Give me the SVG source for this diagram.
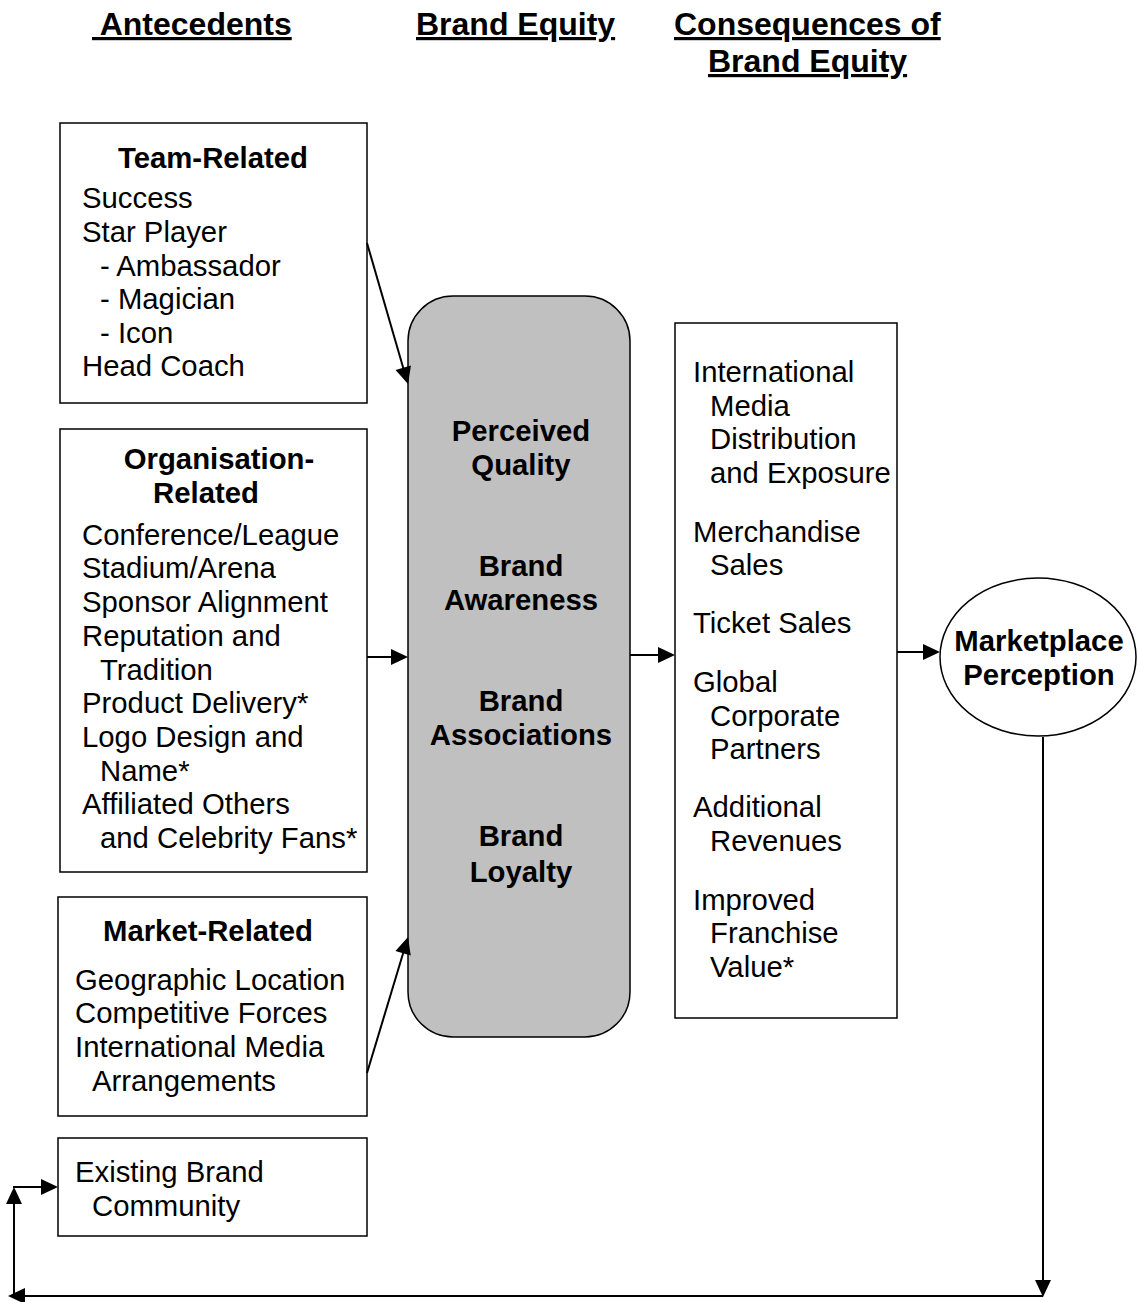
<svg xmlns="http://www.w3.org/2000/svg" xmlns:xlink="http://www.w3.org/1999/xlink" width="1138" height="1302" viewBox="0 0 1138 1302">
  <style>
    text { font-family: "Liberation Sans", Arial, sans-serif; font-size: 29.3px; fill: #000; }
    .b { font-weight: bold; }
    .h { font-weight: bold; font-size: 32px; text-decoration: underline; }
    .mid { text-anchor: middle; }
    .box { fill: #fff; stroke: #000; stroke-width: 1.5; }
    .core { fill: #c0c0c0; stroke: #000; stroke-width: 1.5; }
    .conn line { stroke: #000; stroke-width: 2; fill: none; }
    .head { fill: #000; }
  </style>
  <defs>
    <!-- arrowhead pointing along +x, tip at the origin -->
    <path id="head" class="head" d="M0,0 L-17,-8 L-17,8 Z"/>
  </defs>
  <rect width="1138" height="1302" fill="#fff"/>

  <!-- column headings -->
  <g id="headings">
    <text class="h" x="92" y="35" xml:space="preserve"> Antecedents</text>
    <text class="h" x="416" y="35">Brand Equity</text>
    <text class="h" x="674" y="35">Consequences of</text>
    <text class="h" x="708" y="72">Brand Equity</text>
  </g>

  <g id="team-related">
    <rect class="box" x="60" y="123" width="307" height="280"/>
    <text class="b mid" x="213" y="168">Team-Related</text>
    <text x="82" y="208">Success</text>
    <text x="82" y="242">Star Player</text>
    <text x="100" y="276">- Ambassador</text>
    <text x="100" y="309">- Magician</text>
    <text x="100" y="343">- Icon</text>
    <text x="82" y="376">Head Coach</text>
  </g>

  <g id="organisation-related">
    <rect class="box" x="60" y="429" width="307" height="443"/>
    <text class="b mid" x="219" y="469">Organisation-</text>
    <text class="b mid" x="206" y="503">Related</text>
    <text x="82" y="545">Conference/League</text>
    <text x="82" y="578">Stadium/Arena</text>
    <text x="82" y="612">Sponsor Alignment</text>
    <text x="82" y="646">Reputation and</text>
    <text x="100" y="680">Tradition</text>
    <text x="82" y="713">Product Delivery*</text>
    <text x="82" y="747">Logo Design and</text>
    <text x="100" y="781">Name*</text>
    <text x="82" y="814">Affiliated Others</text>
    <text x="100" y="848">and Celebrity Fans*</text>
  </g>

  <g id="market-related">
    <rect class="box" x="58" y="897" width="309" height="219"/>
    <text class="b mid" x="208" y="941">Market-Related</text>
    <text x="75" y="990">Geographic Location</text>
    <text x="75" y="1023">Competitive Forces</text>
    <text x="75" y="1057">International Media</text>
    <text x="92" y="1091">Arrangements</text>
  </g>

  <g id="existing-community">
    <rect class="box" x="58" y="1138" width="309" height="98"/>
    <text x="75" y="1182">Existing Brand</text>
    <text x="92" y="1216">Community</text>
  </g>

  <g id="brand-equity">
    <rect class="core" x="408" y="296" width="222" height="741" rx="45" ry="45"/>
    <text class="b mid" x="521" y="441">Perceived</text>
    <text class="b mid" x="521" y="475">Quality</text>
    <text class="b mid" x="521" y="576">Brand</text>
    <text class="b mid" x="521" y="610">Awareness</text>
    <text class="b mid" x="521" y="711">Brand</text>
    <text class="b mid" x="521" y="745">Associations</text>
    <text class="b mid" x="521" y="846">Brand</text>
    <text class="b mid" x="521" y="882">Loyalty</text>
  </g>

  <g id="marketplace-perception">
    <ellipse class="box" cx="1038" cy="657" rx="98" ry="79"/>
    <text class="b mid" x="1039" y="651">Marketplace</text>
    <text class="b mid" x="1039" y="685">Perception</text>
  </g>

  <g id="consequences">
    <rect class="box" x="675" y="323" width="222" height="695"/>
    <text x="693" y="382">International</text>
    <text x="710" y="416">Media</text>
    <text x="710" y="449">Distribution</text>
    <text x="710" y="483">and Exposure</text>
    <text x="693" y="542">Merchandise</text>
    <text x="710" y="575">Sales</text>
    <text x="693" y="633">Ticket Sales</text>
    <text x="693" y="692">Global</text>
    <text x="710" y="726">Corporate</text>
    <text x="710" y="759">Partners</text>
    <text x="693" y="817">Additional</text>
    <text x="710" y="851">Revenues</text>
    <text x="693" y="910">Improved</text>
    <text x="710" y="943">Franchise</text>
    <text x="710" y="977">Value*</text>
  </g>

  <g class="conn" id="connectors">
    <!-- team-related to brand equity -->
    <line x1="367" y1="243" x2="405" y2="374"/>
    <use xlink:href="#head" href="#head" transform="translate(408,384) rotate(73.8)"/>
    <!-- organisation-related to brand equity -->
    <line x1="367" y1="657" x2="398" y2="657"/>
    <use xlink:href="#head" href="#head" transform="translate(408,657)"/>
    <!-- market-related to brand equity -->
    <line x1="367" y1="1073" x2="405" y2="947"/>
    <use xlink:href="#head" href="#head" transform="translate(408,937) rotate(-73.2)"/>
    <!-- brand equity to consequences -->
    <line x1="630" y1="655" x2="665" y2="655"/>
    <use xlink:href="#head" href="#head" transform="translate(675,655)"/>
    <!-- consequences to marketplace perception -->
    <line x1="897" y1="652" x2="930" y2="652"/>
    <use xlink:href="#head" href="#head" transform="translate(940,652)"/>
    <!-- feedback loop to existing brand community -->
    <line x1="1043" y1="737" x2="1043" y2="1287"/>
    <use xlink:href="#head" href="#head" transform="translate(1043,1297) rotate(90)"/>
    <line x1="1043" y1="1296" x2="18" y2="1296"/>
    <use xlink:href="#head" href="#head" transform="translate(8,1296) rotate(180)"/>
    <line x1="14" y1="1296" x2="14" y2="1197"/>
    <use xlink:href="#head" href="#head" transform="translate(14,1187) rotate(-90)"/>
    <line x1="13" y1="1187" x2="48" y2="1187"/>
    <use xlink:href="#head" href="#head" transform="translate(58,1187)"/>
  </g>
</svg>
